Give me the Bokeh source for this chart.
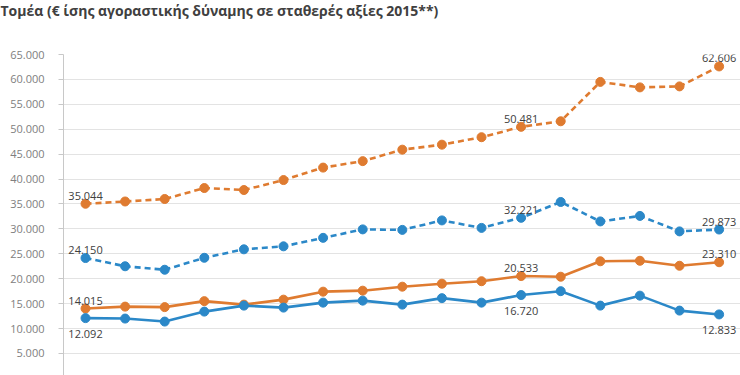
from bokeh.plotting import figure
from bokeh.models import Range1d, ColumnDataSource, FixedTicker, Title
from bokeh.embed import file_html
from bokeh.resources import INLINE
from bokeh.core.properties import value

# ---- data ----
idx = list(range(17))
orange_dashed = [35044, 35500, 36000, 38200, 37800, 39800, 42300, 43600, 45900,
                 46900, 48400, 50481, 51600, 59500, 58400, 58600, 62606]
blue_dashed = [24150, 22500, 21800, 24200, 25900, 26500, 28200, 29900, 29800,
               31700, 30200, 32221, 35400, 31500, 32600, 29500, 29873]
orange_solid = [14015, 14400, 14300, 15500, 14800, 15800, 17400, 17600, 18400,
                19000, 19500, 20533, 20400, 23500, 23600, 22600, 23310]
blue_solid = [12092, 12000, 11400, 13400, 14600, 14200, 15200, 15600, 14800,
              16100, 15200, 16720, 17500, 14600, 16600, 13600, 12833]
y_ticks = list(range(0, 65001, 5000))
y_tick_labels = {t: f"{t:,}".replace(",", ".") for t in y_ticks}
labelled = [0, 11, 16]
title_text = "Τομέα (€ ίσης αγοραστικής δύναμης σε σταθερές αξίες 2015**)"

ORANGE = "#DF7B30"
BLUE = "#2B88C8"
FONT = "Open Sans"

p = figure(width=740, height=375, output_backend="svg", toolbar_location=None,
           title=None,
           x_axis_location=None, x_range=Range1d(-0.556, 16.54),
           y_range=Range1d(575, 65000),
           min_border_left=63, min_border_right=0, min_border_top=54,
           min_border_bottom=0)
p.styles = {"margin-left": "0px", "margin-top": "0px"}
p.outline_line_color = None
p.background_fill_color = "white"
p.border_fill_color = "white"
p.xgrid.grid_line_color = None
p.ygrid.grid_line_color = "#e3e3e3"
p.ygrid.grid_line_width = 1

# spacer panel next to the frame, then the real title above it
p.add_layout(Title(text=" ", text_font_size="1px", standoff=30), "above")
p.add_layout(Title(text=title_text, align="left", vertical_align="top",
                   offset=-63, standoff=0, text_font=FONT, text_font_size="14px",
                   text_font_style="bold", text_color="#404040"), "above")

ax = p.yaxis[0]
ax.ticker = FixedTicker(ticks=y_ticks)
ax.major_label_overrides = y_tick_labels
ax.axis_line_color = "#c8c8c8"
ax.major_tick_line_color = "#c8c8c8"
ax.major_tick_in = 0
ax.major_tick_out = 5
ax.minor_tick_line_color = None
ax.major_label_standoff = 14
ax.major_label_text_font = FONT
ax.major_label_text_font_size = "11px"
ax.major_label_text_color = "#808080"

series = [
    (orange_solid, ORANGE, "solid", "above"),
    (blue_solid, BLUE, "solid", "below"),
    (orange_dashed, ORANGE, "6 4", "above"),
    (blue_dashed, BLUE, "6 4", "above"),
]

for vals, col, dash, pos in series:
    src = ColumnDataSource(dict(x=idx, y=vals))
    p.line("x", "y", source=src, line_color=col, line_width=2.6, line_dash=dash)
    p.scatter("x", "y", source=src, size=9, fill_color=col, line_color=col)

for vals, col, dash, pos in series:
    lsrc = ColumnDataSource(dict(
        x=[idx[i] for i in labelled],
        y=[vals[i] for i in labelled],
        t=[f"{vals[i]:,}".replace(",", ".") for i in labelled]))
    p.text("x", "y", text="t", source=lsrc, text_font=value(FONT),
           text_font_size="11px", text_color="#404040", text_align="center",
           text_baseline="alphabetic", y_offset=(-8 if pos == "above" else 16))

open("out.html", "w").write(file_html(p, INLINE))
